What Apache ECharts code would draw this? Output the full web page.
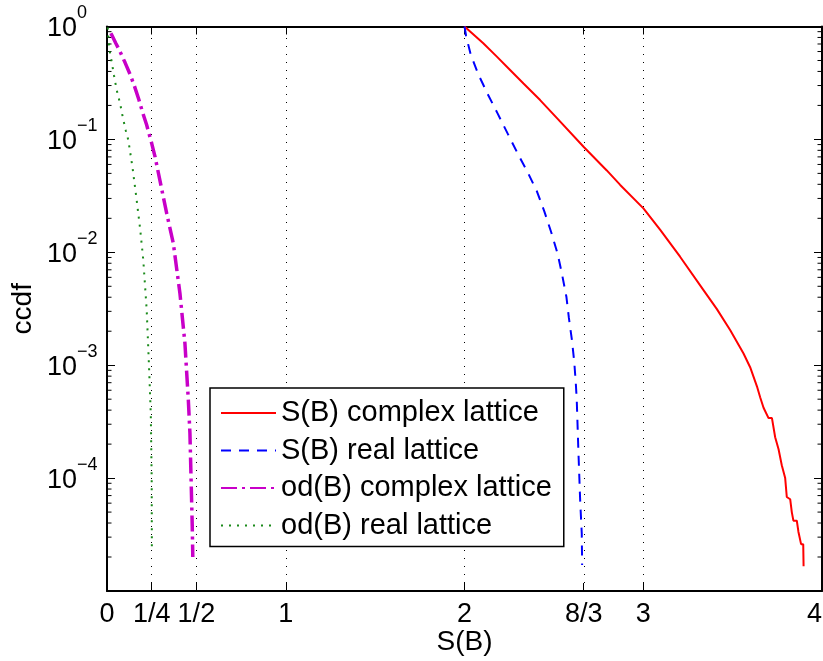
<!DOCTYPE html>
<html>
<head>
<meta charset="utf-8">
<script src="https://cdn.jsdelivr.net/npm/echarts@6/dist/echarts.min.js"></script>
<style>
  html, body { margin: 0; padding: 0; background: #fff; }
  #chart { width: 823px; height: 661px; }
</style>
</head>
<body>
<div id="chart"></div>
<script>
// Complementary CDFs of S(B) and od(B) for complex and real lattices.
const seriesNames = ['S(B) complex lattice', 'S(B) real lattice', 'od(B) complex lattice', 'od(B) real lattice'];

const sComplexX = [2.000, 2.105, 2.181, 2.255, 2.330, 2.423, 2.516, 2.666, 2.796, 2.871, 3.001, 3.095, 3.206, 3.337, 3.412, 3.486, 3.561, 3.598, 3.636, 3.654, 3.673, 3.701, 3.720, 3.738, 3.757, 3.775, 3.794, 3.803, 3.822, 3.831, 3.840, 3.859, 3.868, 3.878, 3.883, 3.895, 3.897];
const sComplexY = [1.0, 0.710, 0.541, 0.412, 0.313, 0.223, 0.155, 0.0861, 0.0531, 0.0395, 0.0245, 0.0158, 0.00914, 0.00463, 0.00314, 0.00205, 0.00127, 9.6e-4, 6.5e-4, 5.2e-4, 4.2e-4, 3.4e-4, 3.4e-4, 2.3e-4, 1.8e-4, 1.3e-4, 1.0e-4, 6.8e-5, 6.5e-5, 5.0e-5, 4.2e-5, 4.2e-5, 3.35e-5, 3.35e-5, 2.6e-5, 2.6e-5, 1.66e-5];

const sRealX = [2.000, 2.009, 2.034, 2.076, 2.129, 2.185, 2.241, 2.297, 2.356, 2.405, 2.447, 2.486, 2.521, 2.546, 2.570, 2.584, 2.601, 2.614, 2.623, 2.628, 2.637, 2.647, 2.656, 2.658];
const sRealY = [1.0, 0.824, 0.570, 0.381, 0.253, 0.170, 0.113, 0.0753, 0.0501, 0.0347, 0.0229, 0.0149, 0.00970, 0.00634, 0.00404, 0.00262, 0.00167, 0.00107, 6.79e-4, 4.92e-4, 1.77e-4, 6.4e-5, 3.24e-5, 1.70e-5];

const odComplexX = [0.022, 0.050, 0.069, 0.101, 0.129, 0.154, 0.179, 0.199, 0.222, 0.250, 0.269, 0.334, 0.371, 0.408, 0.436, 0.455, 0.464, 0.477, 0.480];
const odComplexY = [0.871, 0.708, 0.617, 0.479, 0.377, 0.295, 0.223, 0.174, 0.134, 0.0923, 0.070, 0.0221, 0.0120, 0.00434, 0.00156, 4.92e-4, 2.49e-4, 3.72e-5, 2.0e-5];

const odRealX = [0.004, 0.007, 0.013, 0.026, 0.039, 0.054, 0.073, 0.088, 0.105, 0.119, 0.143, 0.166, 0.186, 0.203, 0.222, 0.235, 0.245, 0.250, 0.251];
const odRealY = [0.98, 0.83, 0.63, 0.49, 0.37, 0.275, 0.209, 0.158, 0.120, 0.099, 0.056, 0.029, 0.0158, 0.00855, 0.00309, 9.8e-4, 3.7e-4, 1.0e-4, 2.3e-5];

// Axis ticks
const xTickValues = [0, 0.25, 0.5, 1, 2, 8 / 3, 3, 4];
const xTickLabels = ['0', '1/4', '1/2', '1', '2', '8/3', '3', '4'];
const xGridValues = [0.25, 0.5, 1, 2, 8 / 3, 3];
const yMin = 1e-5, yMax = 1;

// Minor ticks of the log axis: 2..9 times each decade
const yMinorTicks = [];
for (let e = -5; e < 0; e++) {
  for (let m = 2; m <= 9; m++) yMinorTicks.push(m * Math.pow(10, e));
}

const FONT = 'Liberation Sans, Arial, Helvetica, sans-serif';

function zipXY(xs, ys) { return xs.map((x, i) => [x, ys[i]]); }

function xLabel(v) {
  for (let i = 0; i < xTickValues.length; i++) {
    if (Math.abs(xTickValues[i] - v) < 1e-9) return xTickLabels[i];
  }
  return '';
}

function yLabel(v) {
  const e = Math.round(Math.log10(v));
  if (e <= -5) return '';
  const s = e < 0 ? '\u2212' + (-e) : String(e);
  return '{b|10}{s|' + s + '}';
}

const chart = echarts.init(document.getElementById('chart'), null, { renderer: 'canvas' });

const axisLine = { show: true, onZero: false, lineStyle: { color: '#000', width: 2 } };

chart.setOption({
  animation: false,
  backgroundColor: '#fff',
  grid: { left: 107, top: 26.5, right: 1, bottom: 70, containLabel: false, outerBoundsMode: 'none' },
  legend: {
    data: seriesNames,
    orient: 'vertical',
    left: 210,
    top: 388,
    padding: [10, 12, 6, 10],
    itemGap: 7.5,
    itemWidth: 55,
    itemHeight: 14,
    itemStyle: { opacity: 0 },
    backgroundColor: '#fff',
    borderColor: '#000',
    borderWidth: 1.5,
    borderRadius: 0,
    textStyle: { fontFamily: FONT, fontSize: 29, color: '#000', lineHeight: 30 },
    selectedMode: false,
    z: 10
  },
  xAxis: [
    {
      type: 'value', min: 0, max: 4, position: 'bottom',
      axisLine: axisLine,
      axisTick: { show: true, inside: true, length: 8, customValues: xTickValues, lineStyle: { color: '#000', width: 1 } },
      axisLabel: {
        show: true, customValues: xTickValues, formatter: xLabel, margin: 10,
        color: '#000', fontFamily: FONT, fontSize: 27, hideOverlap: false, alignMaxLabel: 'right'
      },
      splitLine: { show: false },
      name: 'S(B)', nameLocation: 'middle', nameGap: 37, nameMoveOverlap: false,
      nameTextStyle: { fontFamily: FONT, fontSize: 28, color: '#000' }
    },
    {
      type: 'value', min: 0, max: 4, position: 'top',
      axisLine: axisLine,
      axisTick: { show: true, inside: true, length: 8, customValues: xTickValues, lineStyle: { color: '#000', width: 1 } },
      axisLabel: { show: false },
      splitLine: { show: false }
    }
  ],
  yAxis: [
    {
      type: 'log', logBase: 10, min: yMin, max: yMax, position: 'left',
      axisLine: axisLine,
      axisTick: { show: true, inside: true, length: 8, lineStyle: { color: '#000', width: 1 } },
      axisLabel: {
        show: true, formatter: yLabel, align: 'left', margin: 60, padding: [4, 0, 0, 0],
        color: '#000', fontFamily: FONT,
        rich: {
          b: { fontFamily: FONT, fontSize: 27, lineHeight: 48, color: '#000', verticalAlign: 'middle' },
          s: { fontFamily: FONT, fontSize: 18, lineHeight: 18, color: '#000', verticalAlign: 'top' }
        }
      },
      splitLine: { show: false },
      minorTick: { show: false },
      name: 'ccdf', nameLocation: 'middle', nameGap: 70, nameRotate: 90, nameMoveOverlap: false,
      nameTextStyle: { fontFamily: FONT, fontSize: 28, color: '#000' }
    },
    {
      type: 'log', logBase: 10, min: yMin, max: yMax, position: 'right',
      axisLine: axisLine,
      axisTick: { show: true, inside: true, length: 8, lineStyle: { color: '#000', width: 1 } },
      axisLabel: { show: false },
      splitLine: { show: false }
    }
  ],
  series: [
    {
      name: seriesNames[0], type: 'line', xAxisIndex: 0, yAxisIndex: 0,
      data: zipXY(sComplexX, sComplexY), showSymbol: false, symbol: 'none',
      lineStyle: { color: '#ff0000', width: 2, type: 'solid' },
      itemStyle: { color: '#ff0000' },
      z: 4,
      markLine: {
        silent: true, symbol: ['none', 'none'], label: { show: false },
        lineStyle: { color: '#000', width: 1, type: [1, 7] },
        data: xGridValues.map(v => ({ xAxis: v })),
        z: 1
      }
    },
    {
      name: seriesNames[1], type: 'line', xAxisIndex: 0, yAxisIndex: 0,
      data: zipXY(sRealX, sRealY), showSymbol: false, symbol: 'none',
      lineStyle: { color: '#0000ff', width: 2, type: [10, 8] },
      itemStyle: { color: '#0000ff' },
      z: 4
    },
    {
      name: seriesNames[2], type: 'line', xAxisIndex: 0, yAxisIndex: 0,
      data: zipXY(odComplexX, odComplexY), showSymbol: false, symbol: 'none',
      lineStyle: { color: '#c800c8', width: 3.5, type: [16, 5, 3, 5] },
      itemStyle: { color: '#c800c8' },
      z: 4
    },
    {
      name: seriesNames[3], type: 'line', xAxisIndex: 0, yAxisIndex: 0,
      data: zipXY(odRealX, odRealY), showSymbol: false, symbol: 'none',
      lineStyle: { color: '#1a8a1a', width: 2, type: [2, 6] },
      itemStyle: { color: '#1a8a1a' },
      z: 4
    },
    {
      type: 'custom', xAxisIndex: 0, yAxisIndex: 0, silent: true, clip: false, z: 3,
      data: yMinorTicks.map(v => [0, v]),
      renderItem: function (params, api) {
        const v = api.value(1);
        const pL = api.coord([0, v]);
        const pR = api.coord([4, v]);
        return {
          type: 'group',
          children: [
            { type: 'line', shape: { x1: pL[0], y1: pL[1], x2: pL[0] + 4.5, y2: pL[1] }, style: { stroke: '#000', lineWidth: 1 } },
            { type: 'line', shape: { x1: pR[0] - 4.5, y1: pR[1], x2: pR[0], y2: pR[1] }, style: { stroke: '#000', lineWidth: 1 } }
          ]
        };
      }
    }
  ]
});
</script>
</body>
</html>
